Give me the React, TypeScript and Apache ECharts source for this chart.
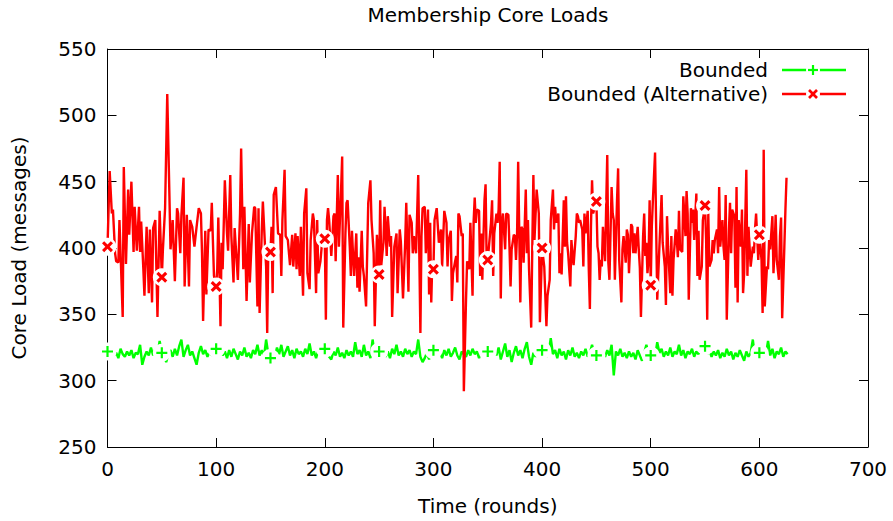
import React, { useEffect, useRef } from "react";
import * as echarts from "echarts";

const TITLE = "Membership Core Loads";
const X_NAME = "Time (rounds)";
const Y_NAME = "Core Load (messages)";
const SERIES_NAMES = ["Bounded", "Bounded (Alternative)"];
const X_MIN = 0, X_MAX = 700, X_STEP = 100;
const Y_MIN = 250, Y_MAX = 550, Y_STEP = 50;

// Rounds carrying a point marker
const markerRounds = [0, 50, 100, 150, 200, 250, 300, 350, 400, 450, 500, 550, 600];

// "Bounded" series: read every 2nd round starting at round 0
const greenFirstRound = 0;
const greenRoundStep = 2;
const greenLoads = [
  322, 318, 323, 319, 321, 317, 324, 320, 318, 322,
  319, 323, 317, 321, 320, 327, 312, 318, 322, 319,
  325, 319, 324, 320, 330, 321, 318, 314, 320, 323,
  318, 324, 319, 326, 331, 318, 323, 327, 319, 322,
  317, 312, 321, 326, 320, 323, 318, 322, 319, 321,
  324, 320, 328, 319, 322, 317, 323, 318, 324, 320,
  316, 322, 319, 325, 318, 321, 317, 323, 320, 327,
  319, 323, 318, 331, 320, 317, 322, 318, 325, 320,
  327, 318, 322, 326, 319, 323, 317, 324, 320, 322,
  318, 324, 320, 328, 319, 322, 317, 323, 320, 322,
  324, 320, 318, 316, 322, 319, 325, 318, 321, 317,
  323, 319, 322, 318, 329, 320, 323, 318, 327, 319,
  322, 317, 331, 320, 324, 322, 319, 323, 318, 322,
  317, 324, 320, 327, 319, 322, 318, 324, 320, 323,
  318, 322, 320, 331, 318, 314, 317, 321, 316, 322,
  323, 325, 320, 322, 317, 323, 319, 324, 318, 321,
  325, 319, 316, 322, 320, 318, 323, 319, 324, 320,
  322, 317, 323, 320, 321, 322, 320, 318, 324, 319,
  325, 316, 322, 328, 318, 323, 314, 321, 326, 319,
  323, 317, 324, 329, 318, 312, 321, 318, 323, 320,
  323, 320, 318, 321, 332, 320, 323, 317, 324, 319,
  322, 316, 323, 319, 325, 318, 321, 317, 322, 319,
  324, 318, 321, 327, 320, 319, 322, 317, 321, 318,
  323, 319, 327, 304, 322, 319, 324, 318, 321, 317,
  322, 318, 321, 316, 323, 319, 315, 321, 327, 320,
  319, 322, 318, 329, 321, 324, 318, 322, 319, 325,
  318, 322, 320, 327, 319, 323, 317, 322, 320, 324,
  318, 322, 320, 324, 321, 326, 320, 323, 318, 322,
  319, 323, 317, 321, 318, 324, 319, 322, 316, 321,
  318, 323, 319, 315, 322, 318, 321, 331, 317, 322,
  321, 318, 323, 320, 330, 319, 324, 317, 322, 320,
  325, 318, 322, 320,
];

// "Bounded (Alternative)" series: [round, load]
const redPoints: [number, number][] = [
  [0,401],[2,458],[4,426],[5,429],[7,396],[8,390],[10,389],[11,421],[14,348],[15,461],[17,388],[19,444],[20,410],[22,450],[24,397],[25,431],[27,398],[29,431],[30,397],[31,420],[33,384],[34,364],[36,416],[38,366],[39,414],[41,359],[42,415],[44,421],[46,348],[48,428],
  [50,378],[51,399],[53,430],[55,516],[57,439],[58,399],[60,421],[62,375],[64,430],[65,426],[67,396],[68,424],[70,453],[71,371],[73,425],[75,371],[76,421],[78,416],[80,401],[82,416],[84,430],[86,426],[87,396],[88,345],[90,413],[91,365],[93,414],[95,413],[96,434],[97,406],[98,379],
  [100,371],[101,384],[102,423],[104,341],[105,404],[106,384],[108,451],[110,411],[111,398],[113,455],[114,409],[116,374],[117,415],[118,402],[120,376],[122,426],[123,475],[125,384],[126,431],[128,360],[130,418],[131,374],[133,411],[135,431],[136,430],[138,356],[139,430],[140,351],[142,413],[143,435],[145,401],[146,386],[147,336],[148,399],
  [150,397],[151,416],[152,366],[153,440],[155,446],[157,411],[159,410],[160,379],[161,421],[163,459],[164,409],[166,406],[168,387],[170,410],[171,386],[173,411],[174,384],[175,409],[177,379],[178,416],[180,364],[181,426],[183,445],[184,381],[186,369],[187,406],[189,426],[190,421],[192,366],[193,421],[194,381],[196,390],[198,409],
  [200,407],[201,346],[202,421],[203,430],[204,421],[206,394],[208,424],[209,426],[210,390],[212,455],[213,401],[215,444],[216,469],[217,340],[219,411],[220,434],[221,436],[223,401],[224,379],[225,413],[226,395],[227,379],[229,411],[230,370],[231,393],[232,367],[234,413],[235,386],[236,379],[238,356],[240,434],[242,451],[243,421],[245,396],[246,341],[248,410],
  [250,380],[251,436],[252,387],[254,404],[255,431],[257,394],[258,424],[260,401],[261,409],[262,348],[264,401],[266,411],[267,366],[269,414],[270,405],[272,362],[274,404],[275,434],[277,367],[278,425],[280,419],[281,396],[282,409],[284,396],[286,455],[288,336],[289,409],[290,430],[292,431],[293,396],[295,429],[296,365],[297,419],[298,359],[299,391],
  [300,384],[301,421],[303,430],[305,404],[307,414],[308,386],[310,428],[312,419],[313,386],[314,406],[316,413],[317,360],[318,381],[320,390],[321,394],[322,374],[323,426],[324,424],[326,409],[327,411],[328,292],[330,361],[331,390],[333,384],[334,419],[336,364],[337,420],[338,438],[339,419],[340,429],[342,428],[343,379],[344,411],[345,376],[347,436],[348,448],[349,390],
  [350,391],[353,419],[354,436],[355,379],[356,411],[358,426],[359,419],[360,429],[361,465],[362,362],[363,419],[364,426],[366,399],[367,426],[369,425],[370,401],[371,371],[372,399],[374,410],[375,409],[376,391],[377,411],[378,465],[380,359],[381,416],[382,414],[383,389],[385,444],[386,396],[387,421],[388,384],[390,340],[391,401],[392,455],[393,406],[395,444],[397,426],[398,344],
  [400,400],[402,386],[404,341],[405,364],[407,376],[408,421],[410,444],[411,414],[412,431],[413,419],[415,426],[416,381],[417,396],[418,380],[420,436],[421,401],[422,439],[423,404],[424,396],[426,371],[427,406],[428,395],[429,387],[431,409],[432,426],[433,424],[434,419],[435,421],[437,414],[438,386],[439,426],[440,411],[442,428],[443,384],[444,354],[445,416],[446,451],[447,426],[448,429],
  [450,435],[451,401],[452,396],[453,376],[454,391],[455,386],[456,416],[458,390],[459,431],[460,470],[461,389],[462,376],[464,446],[465,426],[466,421],[467,376],[469,436],[470,460],[471,391],[473,359],[474,399],[475,409],[477,389],[478,414],[479,410],[480,381],[482,418],[483,416],[484,396],[485,411],[486,396],[488,416],[489,399],[490,385],[491,348],[493,409],[494,426],[495,394],[496,404],[497,381],[498,391],[499,436],
  [500,372],[501,416],[502,436],[504,472],[506,361],[508,401],[510,440],[511,404],[513,386],[514,357],[515,424],[516,401],[518,366],[519,409],[520,364],[521,391],[523,414],[524,406],[525,393],[526,428],[527,399],[529,397],[530,439],[532,409],[533,443],[534,426],[535,361],[537,430],[538,419],[539,429],[540,406],[542,441],[543,379],[544,413],[545,376],[547,386],[548,421],
  [550,432],[551,406],[552,346],[553,426],[554,386],[556,391],[557,406],[558,396],[559,406],[561,414],[562,396],[563,446],[564,401],[566,421],[567,401],[568,391],[569,440],[570,346],[572,414],[573,434],[574,396],[575,429],[577,424],[578,370],[579,446],[580,359],[581,421],[583,401],[584,429],[585,366],[586,381],[588,459],[589,379],[590,416],[591,401],[592,386],[594,401],[595,396],[596,414],[597,426],[599,391],
  [600,410],[602,391],[603,351],[604,474],[605,356],[607,386],[608,384],[609,406],[610,399],[612,424],[613,381],[614,399],[615,425],[616,391],[618,376],[619,409],[620,423],[621,347],[623,401],[624,429],[625,453],
];

const GREEN = "#00ff00";
const RED = "#ff0000";
const FONT = "DejaVu Sans";
const FS = 20;
const PLUS_PATH = "path://M4,0H6V4H10V6H6V10H4V6H0V4H4Z";
const CROSS_PATH = "path://M0,2L2,0L5,3L8,0L10,2L7,5L10,8L8,10L5,7L2,10L0,8L3,5Z";

export default function App() {
  const ref = useRef<HTMLDivElement>(null);
  useEffect(() => {
    if (!ref.current) return;
    const chart = echarts.init(ref.current, undefined, { renderer: "svg" });

    const greenData = greenLoads.map((v, i) => [greenFirstRound + i * greenRoundStep, v]);
    const greenMarks = markerRounds
      .map((r) => greenData.find((p) => p[0] === r))
      .filter(Boolean) as number[][];
    const redMarks = markerRounds
      .map((r) => redPoints.find((p) => p[0] === r))
      .filter(Boolean) as number[][];

    const axisLine = { show: true, onZero: false, lineStyle: { color: "#000", width: 1 } };
    const axisTick = { show: true, inside: true, length: 9, lineStyle: { color: "#000", width: 1 } };
    const label = { fontFamily: FONT, fontSize: FS, color: "#000" };

    const legendY1 = 70, legendY2 = 94;
    const lx1 = 782, lx2 = 846, lm = 813;

    chart.setOption({
      animation: false,
      backgroundColor: "#fff",
      grid: { left: 107.5, right: 25, top: 49, bottom: 73, show: false },
      xAxis: [
        {
          type: "value", min: X_MIN, max: X_MAX, interval: X_STEP, position: "bottom",
          axisLine, axisTick, splitLine: { show: false },
          axisLabel: { ...label, margin: 12 },
          name: X_NAME, nameLocation: "middle", nameGap: 49,
          nameTextStyle: label,
        },
        {
          type: "value", min: X_MIN, max: X_MAX, interval: X_STEP, position: "top",
          axisLine, axisTick, splitLine: { show: false }, axisLabel: { show: false },
        },
      ],
      yAxis: [
        {
          type: "value", min: Y_MIN, max: Y_MAX, interval: Y_STEP, position: "left",
          axisLine, axisTick, splitLine: { show: false },
          axisLabel: { ...label, margin: 11 },
          name: Y_NAME, nameLocation: "middle", nameGap: 79,
          nameTextStyle: label,
        },
        {
          type: "value", min: Y_MIN, max: Y_MAX, interval: Y_STEP, position: "right",
          axisLine, axisTick, splitLine: { show: false }, axisLabel: { show: false },
        },
      ],
      series: [
        {
          name: SERIES_NAMES[0], type: "line", data: greenData, showSymbol: false, symbol: "none",
          lineStyle: { color: GREEN, width: 2.4 }, z: 2,
        },
        {
          type: "scatter", data: greenMarks, symbol: "circle", symbolSize: 18,
          itemStyle: { color: "#fff", opacity: 1 }, z: 3, silent: true,
        },
        {
          type: "scatter", data: greenMarks, symbol: PLUS_PATH, symbolSize: 11,
          itemStyle: { color: GREEN, opacity: 1 }, z: 4, silent: true,
        },
        {
          name: SERIES_NAMES[1], type: "line", data: redPoints, showSymbol: false, symbol: "none",
          lineStyle: { color: RED, width: 2.4 }, z: 5,
        },
        {
          type: "scatter", data: redMarks, symbol: "circle", symbolSize: 18,
          itemStyle: { color: "#fff", opacity: 1 }, z: 6, silent: true,
        },
        {
          type: "scatter", data: redMarks, symbol: CROSS_PATH, symbolSize: 11,
          itemStyle: { color: RED, opacity: 1 }, z: 7, silent: true,
        },
      ],
      graphic: [
        {
          type: "text", x: 488, y: 15,
          style: { text: TITLE, fill: "#000", font: `${FS}px '${FONT}'`, textAlign: "center", textVerticalAlign: "middle" },
        },
        {
          type: "text", x: 768, y: legendY1,
          style: { text: SERIES_NAMES[0], fill: "#000", font: `${FS}px '${FONT}'`, textAlign: "right", textVerticalAlign: "middle" },
        },
        {
          type: "text", x: 768, y: legendY2,
          style: { text: SERIES_NAMES[1], fill: "#000", font: `${FS}px '${FONT}'`, textAlign: "right", textVerticalAlign: "middle" },
        },
        { type: "line", shape: { x1: lx1, y1: legendY1, x2: lx2, y2: legendY1 }, style: { stroke: GREEN, lineWidth: 2.4 } },
        { type: "circle", shape: { cx: lm, cy: legendY1, r: 7 }, style: { fill: "#fff" } },
        { type: "line", shape: { x1: lm - 5, y1: legendY1, x2: lm + 5, y2: legendY1 }, style: { stroke: GREEN, lineWidth: 2.2 } },
        { type: "line", shape: { x1: lm, y1: legendY1 - 5, x2: lm, y2: legendY1 + 5 }, style: { stroke: GREEN, lineWidth: 2.2 } },
        { type: "line", shape: { x1: lx1, y1: legendY2, x2: lx2, y2: legendY2 }, style: { stroke: RED, lineWidth: 2.4 } },
        { type: "circle", shape: { cx: lm, cy: legendY2, r: 7 }, style: { fill: "#fff" } },
        { type: "line", shape: { x1: lm - 4, y1: legendY2 - 4, x2: lm + 4, y2: legendY2 + 4 }, style: { stroke: RED, lineWidth: 2.6 } },
        { type: "line", shape: { x1: lm - 4, y1: legendY2 + 4, x2: lm + 4, y2: legendY2 - 4 }, style: { stroke: RED, lineWidth: 2.6 } },
      ],
    });
    return () => chart.dispose();
  }, []);
  return (
    <div
      ref={ref}
      style={{ position: "fixed", left: 0, top: 0, width: 893, height: 521, background: "#fff" }}
    />
  );
}
